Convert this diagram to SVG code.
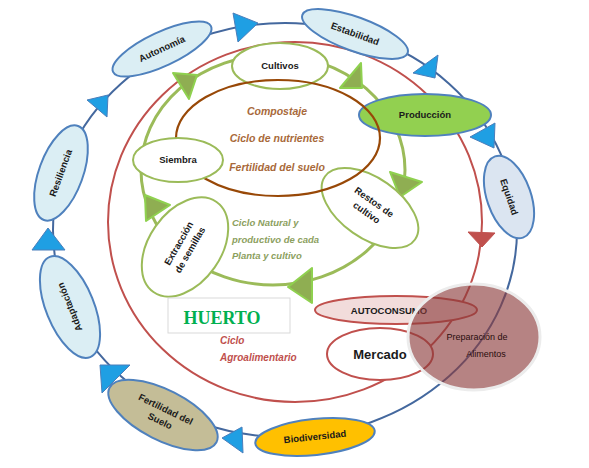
<svg xmlns="http://www.w3.org/2000/svg" width="589" height="468" viewBox="0 0 589 468">
<style>
.lbl{font-family:"Liberation Sans",Arial,sans-serif;font-size:9.5px;font-weight:bold;fill:#1a1a1a;text-anchor:middle}
.bnode{stroke:#4f81bd;stroke-width:2}
.gnode{fill:#fff;stroke:#9bbb59;stroke-width:2}
.barrow{fill:#1f9fe3;stroke:#4a7ebb;stroke-width:1}
.garrow{fill:#8fae52;stroke:#8fd14f;stroke-width:2;stroke-linejoin:round}
.brown{font-family:"Liberation Sans",Arial,sans-serif;font-size:10.5px;font-weight:bold;font-style:italic;fill:#a8693a;text-anchor:middle}
.green{font-family:"Liberation Sans",Arial,sans-serif;font-size:9.5px;font-weight:bold;font-style:italic;fill:#8ca05e}
.red{font-family:"Liberation Sans",Arial,sans-serif;font-size:10px;font-weight:bold;font-style:italic;fill:#c0504d}
</style>
<rect width="589" height="468" fill="#fff"/>
<g id="connectors">
  <ellipse cx="285" cy="230" rx="232" ry="207" fill="none" stroke="#44689e" stroke-width="2"/>
  <ellipse cx="295" cy="222" rx="187" ry="180" fill="none" stroke="#c0504d" stroke-width="2"/>
  <ellipse cx="273" cy="170" rx="132" ry="115" fill="none" stroke="#9bbb59" stroke-width="3"/>
  <polygon class="barrow" points="233,13 258,23 238,42"/>
  <polygon class="barrow" points="87,100 108,95 107,117"/>
  <polygon class="barrow" points="48,228 32,250 65,250"/>
  <polygon class="barrow" points="100,365 130,365 102,393"/>
  <polygon class="barrow" points="222,438 242,427 243,453"/>
  <polygon class="barrow" points="413,73 438,55 435,78"/>
  <polygon class="barrow" points="470,137 495,123 494,148"/>
  <polygon fill="#c0504d" stroke="#c0504d" stroke-width="1" points="468,232 495,233 482,247"/>
  <polygon class="garrow" points="173,73 197,75 189,99"/>
  <polygon class="garrow" points="361,63 340,88 362,88"/>
  <polygon class="garrow" points="390,172 422,182 400,197"/>
  <polygon class="garrow" points="312,268 288,287 312,303"/>
  <polygon class="garrow" points="145,195 170,205 146,221"/>
</g>
<g id="autonomia">
  <ellipse class="bnode" cx="162" cy="49" rx="54" ry="17" fill="#dbeef4" transform="rotate(-25 162 49)"/>
  <text class="lbl" x="162" y="52" transform="rotate(-25 162 49)">Autonomía</text>
</g>
<g id="estabilidad">
  <ellipse class="bnode" cx="355" cy="34" rx="56" ry="17" fill="#dbeef4" transform="rotate(20 355 34)"/>
  <text class="lbl" x="355" y="37" transform="rotate(20 355 34)">Estabilidad</text>
</g>
<g id="produccion">
  <ellipse class="bnode" cx="425" cy="115" rx="66" ry="21" fill="#92d050"/>
  <text class="lbl" x="425" y="118">Producción</text>
</g>
<g id="equidad">
  <ellipse class="bnode" cx="509" cy="197" rx="22" ry="43" fill="#dbe5f1" transform="rotate(-19 509 197)"/>
  <text class="lbl" x="509" y="200" transform="rotate(71 509 197)">Equidad</text>
</g>
<g id="biodiversidad">
  <ellipse class="bnode" cx="315" cy="437" rx="60" ry="18" fill="#ffc000" transform="rotate(-6 315 437)"/>
  <text class="lbl" x="315" y="440" transform="rotate(-6 315 437)">Biodiversidad</text>
</g>
<g id="fertilidad">
  <ellipse class="bnode" cx="163" cy="415" rx="60" ry="25" fill="#c4bd97" transform="rotate(27 163 415)"/>
  <text class="lbl" transform="rotate(26 163 415)"><tspan x="163" y="412">Fertilidad del</tspan><tspan x="163" y="425">Suelo</tspan></text>
</g>
<g id="adaptacion">
  <ellipse class="bnode" cx="70" cy="307" rx="24" ry="54" fill="#dbeef4" transform="rotate(-22 70 307)"/>
  <text class="lbl" x="70" y="310" transform="rotate(-112 70 307)">Adaptación</text>
</g>
<g id="resiliencia">
  <ellipse class="bnode" cx="61" cy="173" rx="22" ry="50" fill="#dbeef4" transform="rotate(20 61 173)"/>
  <text class="lbl" x="61" y="176" transform="rotate(-70 61 173)">Resiliencia</text>
</g>
<g id="cultivos">
  <ellipse class="gnode" cx="280" cy="66" rx="48" ry="23"/>
  <text class="lbl" x="280" y="69">Cultivos</text>
</g>
<g id="restos">
  <ellipse class="gnode" cx="370" cy="208" rx="55" ry="30" transform="rotate(35 370 208)"/>
  <text class="lbl" transform="rotate(35 370 208)"><tspan x="370" y="204">Restos de</tspan><tspan x="370" y="217">cultivo</tspan></text>
</g>
<g id="ciclo-nutrientes">
  <ellipse cx="278" cy="138" rx="102" ry="58" fill="none" stroke="#984807" stroke-width="2.2"/>
  <text class="brown" x="277" y="115">Compostaje</text>
  <text class="brown" x="277" y="142">Ciclo de nutrientes</text>
  <text class="brown" x="277" y="171">Fertilidad del suelo</text>
</g>
<g id="siembra">
  <ellipse class="gnode" cx="178" cy="160" rx="45" ry="22"/>
  <text class="lbl" x="178" y="163">Siembra</text>
</g>
<g id="extraccion">
  <ellipse class="gnode" cx="185" cy="247" rx="55" ry="36" transform="rotate(-55 185 247)"/>
  <text class="lbl" transform="rotate(-60 185 247)"><tspan x="185" y="243">Extracción</tspan><tspan x="185" y="256">de semillas</tspan></text>
</g>
<g id="ciclo-natural">
  <text class="green" x="232" y="226">Ciclo Natural y</text>
  <text class="green" x="232" y="243">productivo  de cada</text>
  <text class="green" x="232" y="259">Planta y  cultivo</text>
</g>
<g id="huerto">
  <rect x="168" y="298" width="122" height="35" fill="#fff" stroke="#d9d9d9" stroke-width="1"/>
  <text x="222" y="324" font-family="Liberation Serif,serif" font-size="18" font-weight="bold" fill="#00b050" text-anchor="middle">HUERTO</text>
  <text class="red" x="220" y="344">Ciclo</text>
  <text class="red" x="220" y="361">Agroalimentario</text>
</g>
<g id="autoconsumo">
  <ellipse cx="396" cy="310" rx="81" ry="14" fill="#f2dcdb" stroke="#c0504d" stroke-width="2"/>
  <text class="lbl" x="389" y="314">AUTOCONSUMO</text>
</g>
<g id="mercado">
  <ellipse cx="380" cy="354" rx="53" ry="26" fill="#fff" stroke="#c0504d" stroke-width="2"/>
  <text class="lbl" x="380" y="359" style="font-size:13px">Mercado</text>
</g>
<g id="preparacion">
  <ellipse cx="474" cy="337" rx="66" ry="53" fill="#8b3a3a" fill-opacity="0.63" stroke="#ececec" stroke-width="3"/>
  <text class="lbl" x="477" y="340" style="font-weight:normal;fill:#2a0d0d;font-size:9px">Preparación de</text>
  <text class="lbl" x="486" y="357" style="font-weight:normal;fill:#2a0d0d;font-size:9px">Alimentos</text>
</g>
</svg>
